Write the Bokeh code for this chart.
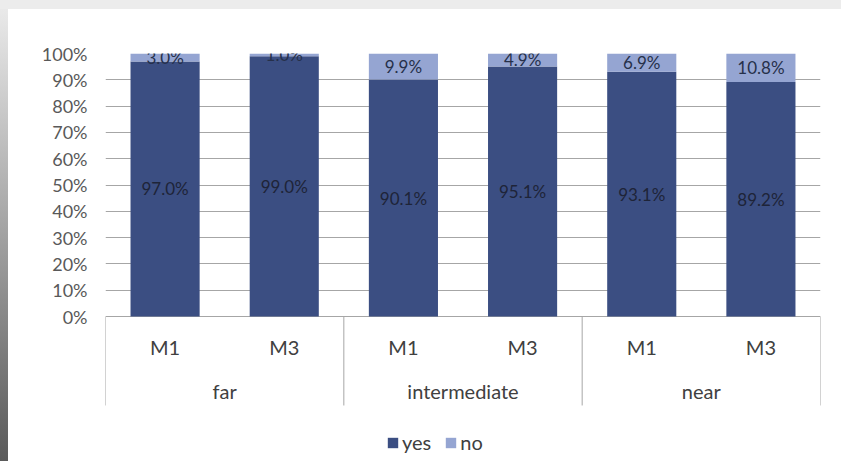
from bokeh.plotting import figure
from bokeh.models import (ColumnDataSource, Range1d, FixedTicker, NumeralTickFormatter,
                          Legend, LegendItem)
from bokeh.embed import file_html
from bokeh.resources import INLINE
from bokeh.core.properties import value

# Share of "yes" / "no" answers per distance and method (percent)
groups = ["far", "intermediate", "near"]
methods = ["M1", "M3"]
yes_pct = [97.0, 99.0, 90.1, 95.1, 93.1, 89.2]
no_pct = [3.0, 1.0, 9.9, 4.9, 6.9, 10.8]
y_ticks = [0.0, 0.1, 0.2, 0.3, 0.4, 0.5, 0.6, 0.7, 0.8, 0.9, 1.0]

DARK = "#3b4e82"
LIGHT = "#95a5d2"
FONT = "Lato"

n = len(yes_pct)
xs = [i + 0.5 for i in range(n)]
yes = [v / 100 for v in yes_pct]
no = [v / 100 for v in no_pct]

src = ColumnDataSource(dict(
    x=xs, yes=yes, no=no,
    yes_mid=[y / 2 for y in yes],
    no_mid=[y + m / 2 for y, m in zip(yes, no)],
    yes_lbl=[f"{v:.1f}%" for v in yes_pct],
    no_lbl=[f"{v:.1f}%" for v in no_pct],
    method=[methods[i % 2] for i in range(n)],
))

# the frame reaches down to the page bottom so the category axis and legend sit inside it
p = figure(width=841, height=461, x_range=Range1d(0, n), y_range=Range1d(-0.551, 1.0),
           output_backend="svg", toolbar_location=None, x_axis_type=None,
           min_border_left=105, min_border_right=21, min_border_top=53, min_border_bottom=0)
p.background_fill_color = "white"
p.border_fill_alpha = 0
p.outline_line_color = None
# page frame: grey band on top, shaded strip on the left, white elsewhere
p.styles = {
    "background": ("linear-gradient(#ececec, #ececec) left top / 100% 9px no-repeat, "
                   "linear-gradient(#ececec, #5a5a5a) left top / 8px 100% no-repeat, "
                   "#ffffff")
}

# horizontal gridlines at each 10 %
p.xgrid.visible = False
p.ygrid.ticker = FixedTicker(ticks=y_ticks)
p.ygrid.grid_line_color = "#a6a6a6"
p.ygrid.grid_line_width = 1

ax = p.yaxis[0]
ax.ticker = FixedTicker(ticks=y_ticks)
ax.formatter = NumeralTickFormatter(format="0%")
ax.axis_line_color = None
ax.major_tick_line_color = None
ax.minor_tick_line_color = None
ax.major_tick_in = 0
ax.major_tick_out = 0
ax.major_label_standoff = 18
ax.major_label_text_font = FONT
ax.major_label_text_font_size = "18px"
ax.major_label_text_color = "#595959"

bars = p.vbar_stack(["yes", "no"], x="x", width=0.58, source=src,
                    color=[DARK, LIGHT], line_color=None)

# value labels inside each segment
p.text(x="x", y="yes_mid", text="yes_lbl", source=src, text_align="center",
       text_baseline="middle", text_font=value(FONT), text_font_size="17px",
       text_color="#1e2438")
p.text(x="x", y="no_mid", text="no_lbl", source=src, text_align="center",
       text_baseline="middle", text_font=value(FONT), text_font_size="17px",
       text_color="#26304a")

# two-level category axis drawn below the zero line
p.text(x="x", y=value(-0.115), text="method", source=src, text_align="center",
       text_baseline="middle", text_font=value(FONT), text_font_size="20px",
       text_color="#404040")
gx = [2 * g + 1 for g in range(len(groups))]
p.text(x=gx, y=[-0.282] * len(groups), text=groups, text_align="center",
       text_baseline="middle", text_font=value(FONT), text_font_size="20px",
       text_color="#404040")
sep = [2 * g for g in range(len(groups) + 1)]
p.segment(x0=sep, y0=[0] * len(sep), x1=sep, y1=[-0.338] * len(sep),
          line_color="#a6a6a6", line_width=1)

legend = Legend(items=[LegendItem(label="yes", renderers=[bars[0]]),
                       LegendItem(label="no", renderers=[bars[1]])],
                orientation="horizontal", location=(281, 7),
                glyph_width=13, glyph_height=13, label_standoff=3, spacing=13,
                padding=0, margin=0, border_line_color=None,
                background_fill_alpha=0, label_text_font=FONT,
                label_text_font_size="20px", label_text_color="#404040")
p.add_layout(legend, "center")

open("out.html", "w").write(file_html(p, INLINE))
